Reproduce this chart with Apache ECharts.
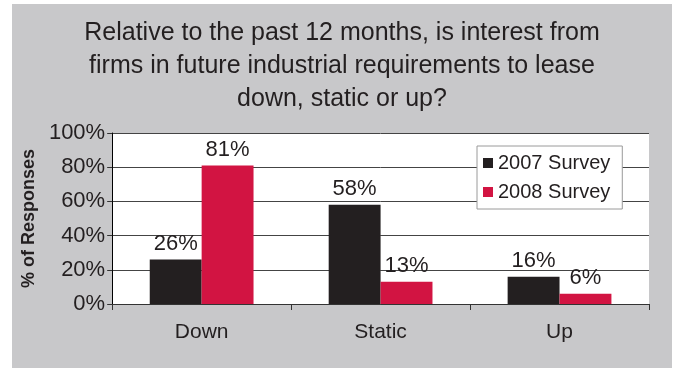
<!DOCTYPE html>
<html>
<head>
<meta charset="utf-8">
<script src="https://cdn.jsdelivr.net/npm/echarts@6/dist/echarts.min.js"></script>
<style>
  html, body { margin: 0; padding: 0; background: #ffffff; }
  #chart { position: absolute; left: 12px; top: 4px; width: 660px; height: 364px; }
</style>
</head>
<body>
<div id="chart"></div>
<script>
// Survey answers, percent of responses
const categories = ['Down', 'Static', 'Up'];
const survey2007 = [26, 58, 16];
const survey2008 = [81, 13, 6];
const seriesNames = ['2007 Survey', '2008 Survey'];
const yTicks = [0, 20, 40, 60, 80, 100];

const FONT = '"Liberation Sans", Arial, sans-serif';
const INK = '#231f20';

const chart = echarts.init(document.getElementById('chart'));

const labelStyle = {
  show: true,
  position: 'top',
  distance: 5,
  formatter: p => p.value + '%',
  fontFamily: FONT,
  fontSize: 22,
  color: INK
};

chart.setOption({
  backgroundColor: '#c8c8ca',
  animation: false,
  title: {
    text: 'Relative to the past 12 months, is interest from\nfirms in future industrial requirements to lease\ndown, static or up?',
    left: 'center',
    top: 13,
    padding: 0,
    textStyle: {
      fontFamily: FONT,
      fontWeight: 'normal',
      fontSize: 25,
      lineHeight: 33,
      color: INK
    }
  },
  legend: {
    orient: 'vertical',
    left: 465,
    top: 142,
    padding: [7, 12, 7, 6],
    itemGap: 9,
    itemWidth: 10,
    itemHeight: 10,
    icon: 'rect',
    backgroundColor: '#ffffff',
    borderColor: '#9a9a9a',
    borderWidth: 1,
    borderRadius: 0,
    textStyle: { fontFamily: FONT, fontSize: 20, color: INK },
    data: seriesNames
  },
  grid: {
    left: 95,
    right: 23,
    top: 129,
    bottom: 64,
    show: true,
    backgroundColor: '#ffffff',
    borderWidth: 0
  },
  xAxis: {
    type: 'category',
    data: categories,
    axisLine: { lineStyle: { color: '#333', width: 1 } },
    axisTick: { show: true, length: 6, lineStyle: { color: '#333' } },
    axisLabel: { margin: 18, fontFamily: FONT, fontSize: 21, color: INK }
  },
  yAxis: {
    type: 'value',
    min: yTicks[0],
    max: yTicks[yTicks.length - 1],
    interval: yTicks[1] - yTicks[0],
    name: '% of Responses',
    nameLocation: 'middle',
    nameGap: 72,
    nameTextStyle: { fontFamily: FONT, fontSize: 18, fontWeight: 'bold', color: INK },
    axisLine: { show: true, lineStyle: { color: '#000', width: 1 } },
    axisTick: { show: true, length: 5, lineStyle: { color: '#333' } },
    axisLabel: { margin: 7, fontFamily: FONT, fontSize: 22, color: INK, formatter: v => v + '%' },
    splitLine: { show: true, lineStyle: { color: '#444', width: 1 } }
  },
  series: [
    {
      name: seriesNames[0],
      type: 'bar',
      data: survey2007,
      barGap: '0%',
      barCategoryGap: '42%',
      itemStyle: { color: '#231f20' },
      label: labelStyle
    },
    {
      name: seriesNames[1],
      type: 'bar',
      data: survey2008,
      itemStyle: { color: '#d21442' },
      label: labelStyle
    }
  ]
});
</script>
</body>
</html>
